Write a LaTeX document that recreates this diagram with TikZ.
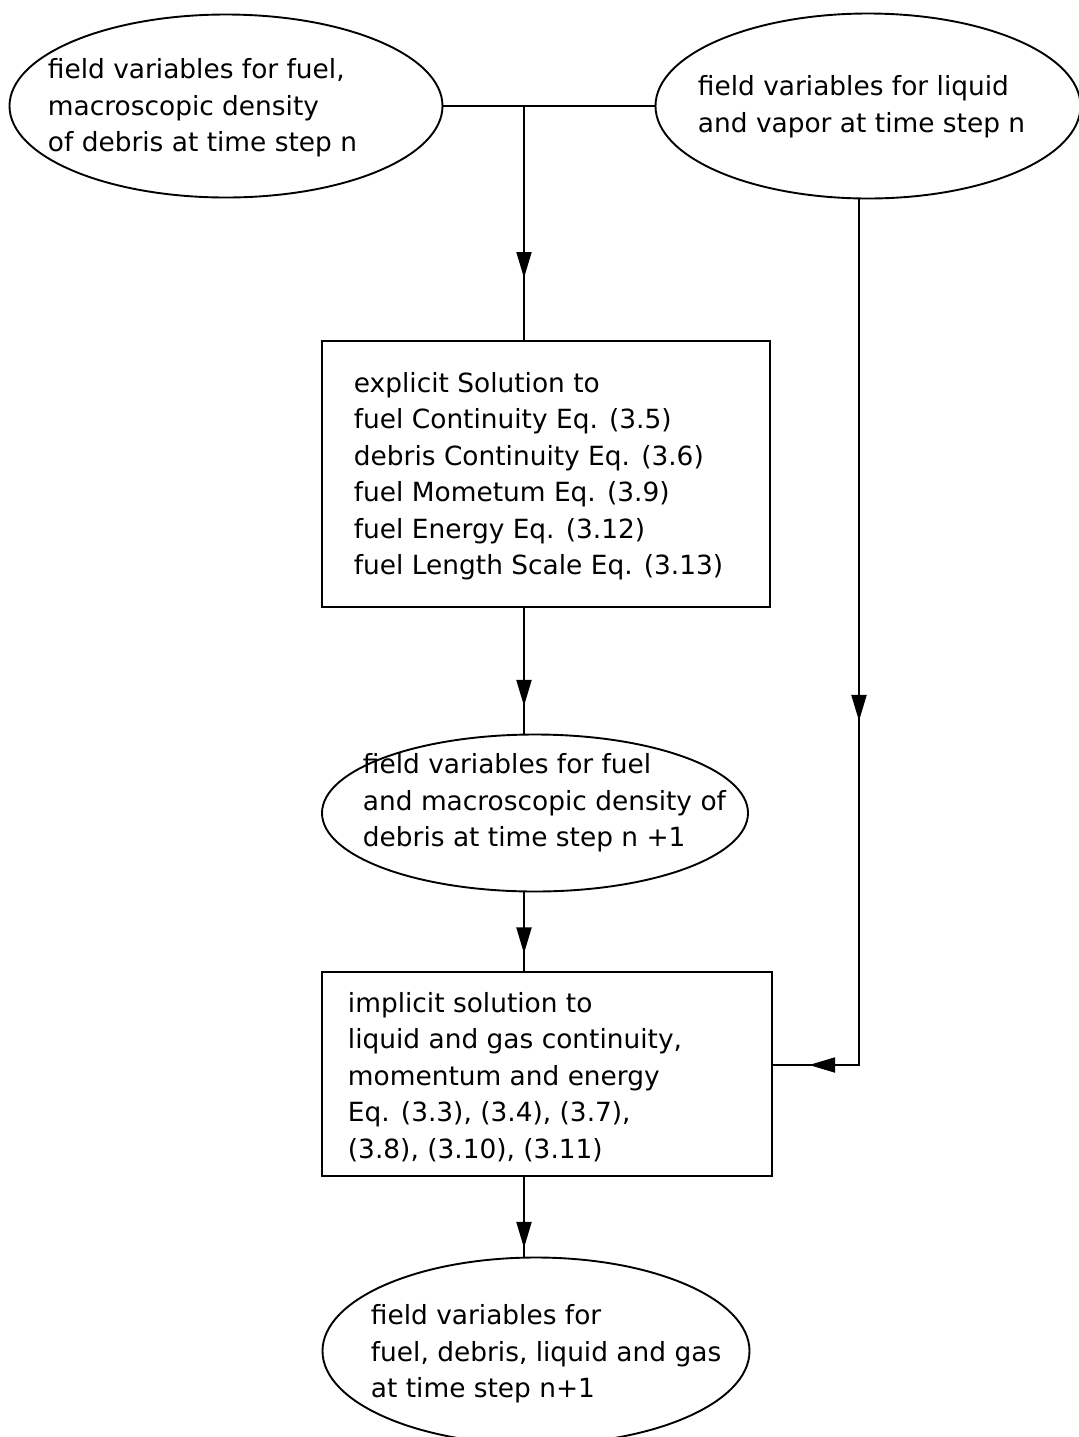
\documentclass[tikz,border=0pt]{standalone}
\usepackage{fontspec}
\setmainfont{DejaVu Sans}
\usetikzlibrary{shapes.geometric,arrows.meta,decorations.markings}

\begin{document}
\begin{tikzpicture}[x=0.5pt,y=-0.5pt,line width=0.95pt,
  stage/.style={draw,ellipse,inner sep=0pt},
  task/.style={draw,rectangle,inner sep=0pt},
  caption/.style={anchor=west,align=left,inner sep=0pt,
    font=\fontsize{13.2}{18.25}\selectfont},
  flow/.style={postaction={decorate,decoration={markings,
    mark=at position #1 with {\arrow{Triangle[length=13pt,width=7.5pt]}}}}}]

\useasboundingbox[fill=white] (0,0) rectangle (1079,1437);

% states and solution steps
\node[stage,minimum width=216.5pt,minimum height=91.5pt] (L)  at (226,106) {};
\node[stage,minimum width=212.5pt,minimum height=92.5pt] (R)  at (868,106) {};
\node[task, minimum width=224pt,  minimum height=133pt]  (B1) at (546,474) {};
\node[stage,minimum width=213pt,  minimum height=78.5pt] (E2) at (535,813) {};
\node[task, minimum width=225pt,  minimum height=102pt]  (B2) at (547,1074) {};
\node[stage,minimum width=213.5pt,minimum height=93.5pt] (E3) at (536,1351) {};

% texts
\node[caption] (tL) at (47,108) {field variables for fuel,\\macroscopic density\\of debris at time step n};
\node[caption] (tR) at (697,106.5) {field variables for liquid\\and vapor at time step n};
\node[caption] (tB1) at (353,476) {explicit Solution to\\fuel Continuity Eq. (3.5)\\debris Continuity Eq. (3.6)\\fuel Mometum Eq. (3.9)\\fuel Energy Eq. (3.12)\\fuel Length Scale Eq. (3.13)};
\node[caption] (tE2) at (362,803) {field variables for fuel\\and macroscopic density of\\debris at time step n +1};
\node[caption] (tB2) at (347,1077) {implicit solution to\\liquid and gas continuity,\\momentum and energy\\Eq. (3.3), (3.4), (3.7),\\(3.8), (3.10), (3.11)};
\node[caption] (tE3) at (370,1354) {field variables for\\fuel, debris, liquid and gas\\at time step n+1};

% connectors
\coordinate (J) at (524,106);
\coordinate (K) at (859,1065);
\draw (L) -- (R);
\draw[flow=86pt] (J) -- (J |- B1.north);
\draw[flow=49pt] (B1.south -| J) -- (E2.north -| J);
\draw[flow=30.5pt] (E2.south -| J) -- (B2.north -| J);
\draw[flow=35.5pt] (B2.south -| J) -- (E3.north -| J);
\draw[flow=260.75pt,flow=457.75pt] (R.south -| K) -- (K) -- (K -| B2.east);
\end{tikzpicture}
\end{document}
